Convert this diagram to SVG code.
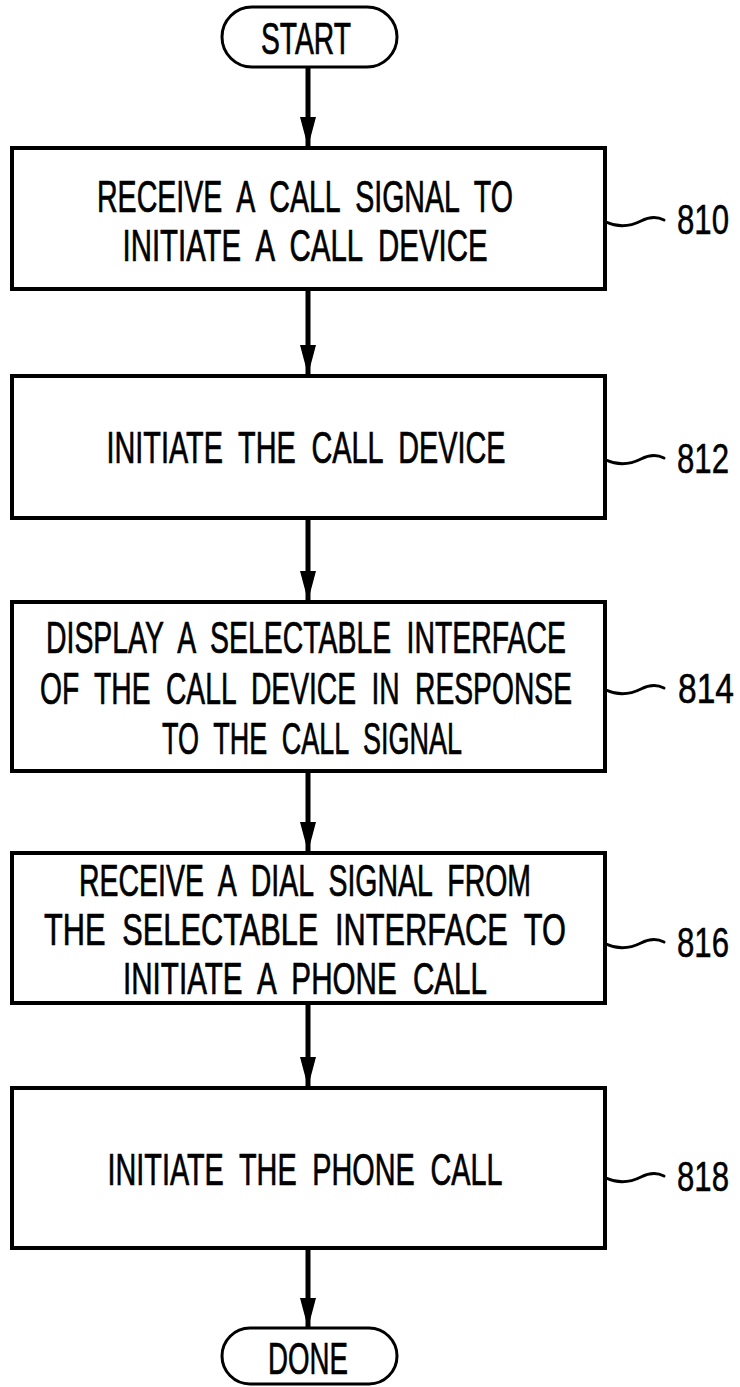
<svg xmlns="http://www.w3.org/2000/svg" width="740" height="1387" viewBox="0 0 740 1387">
<style>
  .bg { fill: #ffffff; }
  .box { fill: #ffffff; stroke: #000000; stroke-width: 4; }
  .term { fill: #ffffff; stroke: #000000; stroke-width: 3; }
  .t { font-family: "Liberation Sans", Arial, sans-serif; font-size: 45px; fill: #000000; stroke: #000000; stroke-width: 0.7; text-anchor: middle; word-spacing: 12px; }
  .lbl { font-family: "Liberation Sans", Arial, sans-serif; font-size: 42px; fill: #000000; stroke: #000000; stroke-width: 0.5; text-anchor: start; }
  .conn { stroke: #000000; stroke-width: 5; fill: none; }
  .sq { stroke: #000000; stroke-width: 3; fill: none; stroke-linecap: round; }
</style>
<defs>
  <marker id="arr" markerUnits="userSpaceOnUse" markerWidth="30" markerHeight="16" refX="29" refY="8" orient="auto" viewBox="0 0 30 16">
    <path d="M0,0 L30,8 L0,16 Z" fill="#000000"/>
  </marker>
</defs>
<rect class="bg" x="0" y="0" width="740" height="1387"/>

<g id="connectors">
  <line class="conn" x1="308" y1="67" x2="308" y2="146" marker-end="url(#arr)"/>
  <line class="conn" x1="308" y1="289" x2="308" y2="374" marker-end="url(#arr)"/>
  <line class="conn" x1="308" y1="518" x2="308" y2="600" marker-end="url(#arr)"/>
  <line class="conn" x1="308" y1="771" x2="308" y2="851" marker-end="url(#arr)"/>
  <line class="conn" x1="308" y1="1003" x2="308" y2="1086" marker-end="url(#arr)"/>
  <line class="conn" x1="308" y1="1248" x2="308" y2="1327" marker-end="url(#arr)"/>
</g>

<g id="start">
  <rect class="term" x="222" y="7" width="175" height="60" rx="30" ry="30"/>
  <text class="t" x="306" y="54" transform="matrix(0.63,0,0,1,113.22,0)" textLength="142.9" lengthAdjust="spacingAndGlyphs">START</text>
</g>

<g id="n810">
  <rect class="box" x="12" y="148" width="593" height="141"/>
  <text class="t" x="305" y="212" transform="matrix(0.63,0,0,1,112.85,0)" textLength="660.3" lengthAdjust="spacingAndGlyphs">RECEIVE A CALL SIGNAL TO</text>
  <text class="t" x="305" y="261" transform="matrix(0.63,0,0,1,112.85,0)" textLength="579.4" lengthAdjust="spacingAndGlyphs">INITIATE A CALL DEVICE</text>
</g>
<g id="l810">
  <path class="sq" d="M606,222 C619,228 631,226 641,221 C649,217 656,216 664,220"/>
  <text class="lbl" x="677" y="234" transform="matrix(0.75,0,0,1,169.25,0)" textLength="69.3" lengthAdjust="spacingAndGlyphs">810</text>
</g>

<g id="n812">
  <rect class="box" x="12" y="376" width="593" height="142"/>
  <text class="t" x="306" y="463" transform="matrix(0.63,0,0,1,113.22,0)" textLength="633.3" lengthAdjust="spacingAndGlyphs">INITIATE THE CALL DEVICE</text>
</g>
<g id="l812">
  <path class="sq" d="M606,460 C619,466 631,464 641,459 C649,455 656,454 664,458"/>
  <text class="lbl" x="677" y="473" transform="matrix(0.75,0,0,1,169.25,0)" textLength="69.3" lengthAdjust="spacingAndGlyphs">812</text>
</g>

<g id="n814">
  <rect class="box" x="12" y="602" width="593" height="169"/>
  <text class="t" x="306" y="653" transform="matrix(0.63,0,0,1,113.22,0)" textLength="825.4" lengthAdjust="spacingAndGlyphs">DISPLAY A SELECTABLE INTERFACE</text>
  <text class="t" x="306" y="704" transform="matrix(0.63,0,0,1,113.22,0)" textLength="844.4" lengthAdjust="spacingAndGlyphs">OF THE CALL DEVICE IN RESPONSE</text>
  <text class="t" x="312" y="754" transform="matrix(0.63,0,0,1,115.44,0)" textLength="476.2" lengthAdjust="spacingAndGlyphs">TO THE CALL SIGNAL</text>
</g>
<g id="l814">
  <path class="sq" d="M606,690 C619,696 631,694 641,689 C649,685 656,684 664,688"/>
  <text class="lbl" x="678" y="703" transform="matrix(0.75,0,0,1,169.5,0)" textLength="74.7" lengthAdjust="spacingAndGlyphs">814</text>
</g>

<g id="n816">
  <rect class="box" x="12" y="853" width="593" height="150"/>
  <text class="t" x="305" y="896" transform="matrix(0.63,0,0,1,112.85,0)" textLength="717.5" lengthAdjust="spacingAndGlyphs">RECEIVE A DIAL SIGNAL FROM</text>
  <text class="t" x="305" y="945" transform="matrix(0.63,0,0,1,112.85,0)" textLength="828.6" lengthAdjust="spacingAndGlyphs">THE SELECTABLE INTERFACE TO</text>
  <text class="t" x="305" y="994" transform="matrix(0.63,0,0,1,112.85,0)" textLength="577.8" lengthAdjust="spacingAndGlyphs">INITIATE A PHONE CALL</text>
</g>
<g id="l816">
  <path class="sq" d="M606,944 C619,950 631,948 641,943 C649,939 656,938 664,942"/>
  <text class="lbl" x="677" y="957" transform="matrix(0.75,0,0,1,169.25,0)" textLength="69.3" lengthAdjust="spacingAndGlyphs">816</text>
</g>

<g id="n818">
  <rect class="box" x="12" y="1088" width="593" height="160"/>
  <text class="t" x="305" y="1185" transform="matrix(0.63,0,0,1,112.85,0)" textLength="627" lengthAdjust="spacingAndGlyphs">INITIATE THE PHONE CALL</text>
</g>
<g id="l818">
  <path class="sq" d="M606,1178 C619,1184 631,1182 641,1177 C649,1173 656,1172 664,1176"/>
  <text class="lbl" x="677" y="1191" transform="matrix(0.75,0,0,1,169.25,0)" textLength="69.3" lengthAdjust="spacingAndGlyphs">818</text>
</g>

<g id="done">
  <rect class="term" x="222" y="1328" width="175" height="56" rx="28" ry="28"/>
  <text class="t" x="308" y="1374" transform="matrix(0.63,0,0,1,113.96,0)" textLength="127" lengthAdjust="spacingAndGlyphs">DONE</text>
</g>
</svg>
